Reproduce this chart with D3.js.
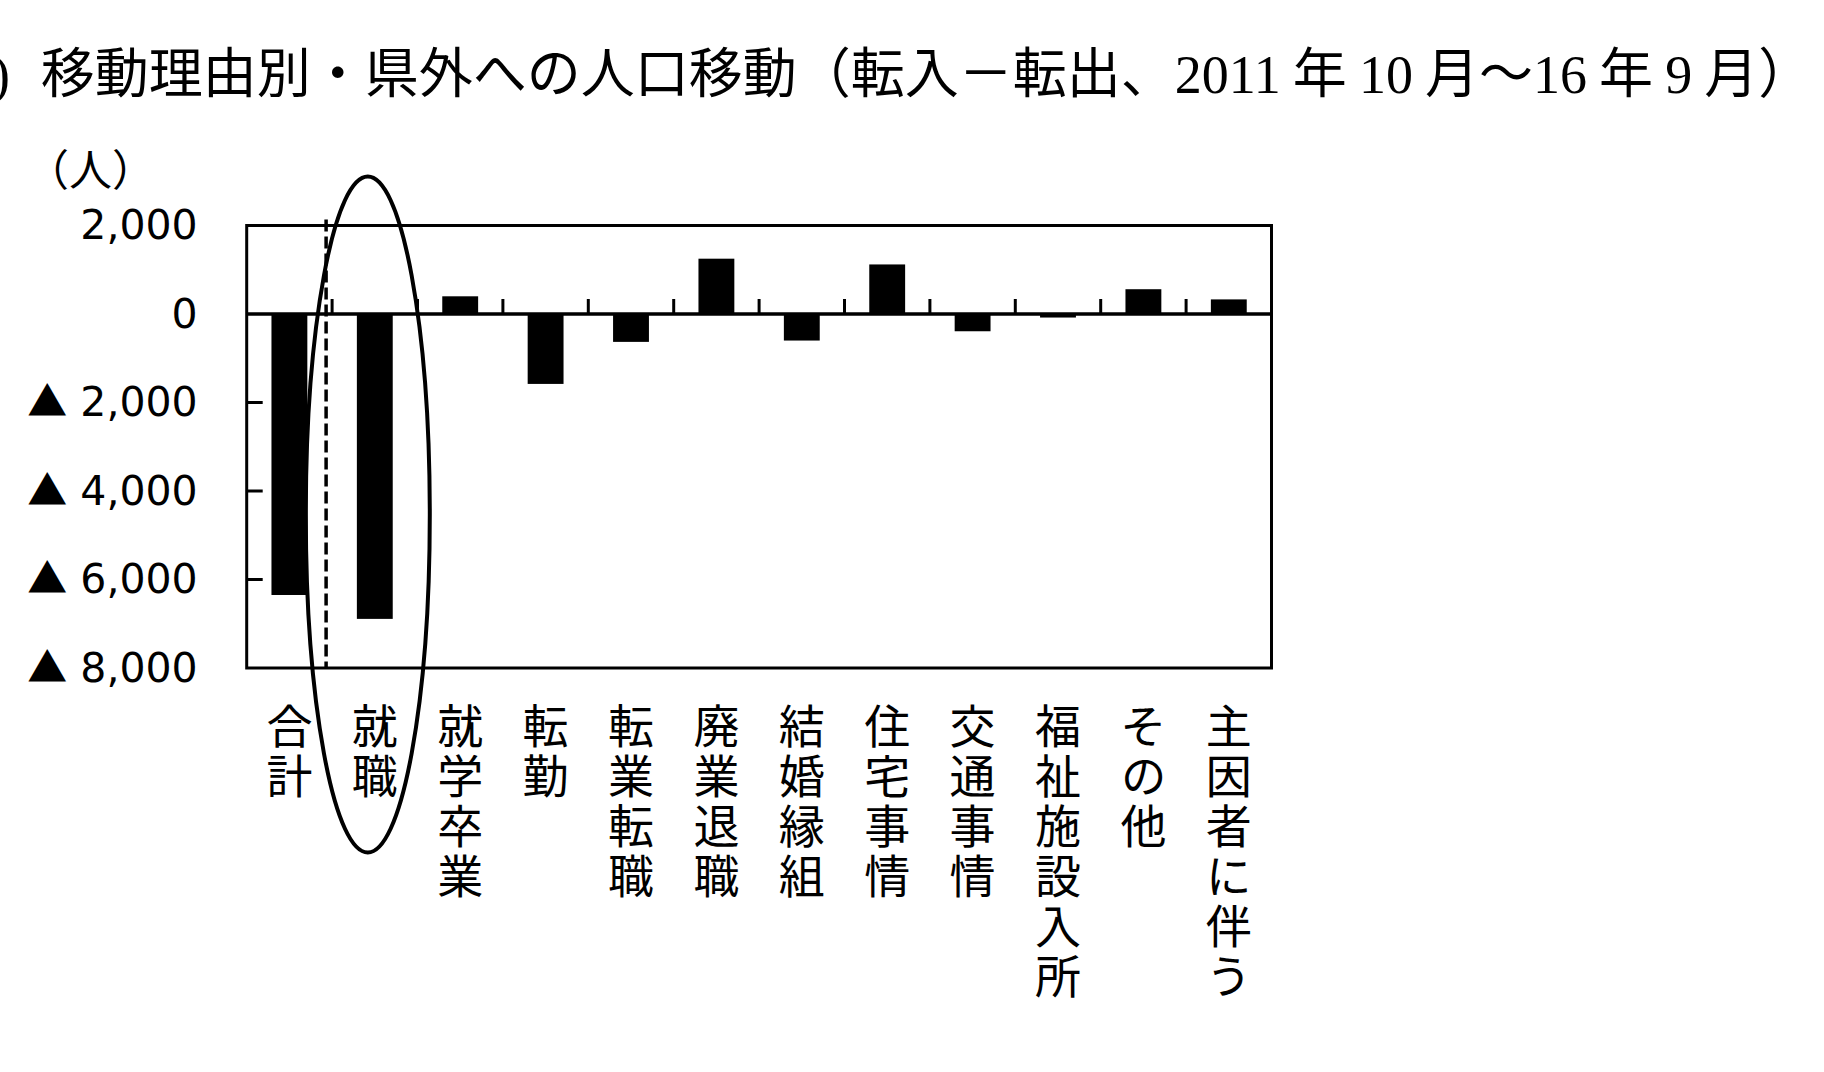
<!DOCTYPE html>
<html>
<head>
<meta charset="utf-8">
<script src="https://cdn.jsdelivr.net/npm/d3@7"></script>
<style>
  html, body { margin: 0; padding: 0; background: #fff; }
  svg { display: block; }
</style>
</head>
<body>
<svg id="chart" width="1824" height="1072"></svg>
<script>
const categories = ["合計","就職","就学卒業","転勤","転業転職","廃業退職","結婚縁組","住宅事情","交通事情","福祉施設入所","その他","主因者に伴う"];
const values = [-6350, -6890, 400, -1580, -630, 1250, -600, 1120, -390, -80, 560, 330];
const yTicks = [2000, 0, -2000, -4000, -6000, -8000];
const yTickLabels = ["2,000", "0", "2,000", "4,000", "6,000", "8,000"];
const negMark = "▲";
const titleText = "移動理由別・県外への人口移動（転入－転出、";
const titleDate = [["2011", "num"], [" 年 ", "jp"], ["10", "num"], [" 月～", "jp"], ["16", "num"], [" 年 ", "jp"], ["9", "num"], [" 月）", "jp"]];
const unitLabel = "（人）";

const svg = d3.select("#chart");
const jp = "'Noto Sans CJK JP', 'Noto Sans CJK SC', sans-serif";
const serif = "'Liberation Serif', 'DejaVu Serif', serif";

const plot = { left: 246.7, right: 1271.5, top: 225.5, bottom: 668 };

const x = d3.scaleBand().domain(categories).range([plot.left, plot.right])
  .paddingInner(0.58).paddingOuter(0.29);
const y = d3.scaleLinear().domain([2000, -8000]).range([plot.top, plot.bottom]);
const bw = x.bandwidth();
const step = x.step();
const gap = step - bw;

// title
svg.append("text").attr("x", 10).attr("y", 93).attr("text-anchor", "end")
  .attr("font-family", serif).attr("font-size", 54).text("(2)");
const t = svg.append("text").attr("x", 40.7).attr("y", 93).attr("font-size", 54).attr("fill", "#000");
t.append("tspan").attr("font-family", jp).text(titleText);
titleDate.forEach(([s, k]) => {
  t.append("tspan").attr("font-family", k === "num" ? serif : jp).text(s);
});

// unit label
svg.append("text").attr("x", 26).attr("y", 186).attr("font-family", jp).attr("font-size", 43).text(unitLabel);

// bars
svg.append("g").selectAll("rect").data(categories).join("rect")
  .attr("x", d => x(d))
  .attr("width", bw)
  .attr("y", (d, i) => y(Math.max(0, values[i])))
  .attr("height", (d, i) => Math.abs(y(values[i]) - y(0)))
  .attr("fill", "#000");

// frame
svg.append("rect").attr("x", plot.left).attr("y", plot.top)
  .attr("width", plot.right - plot.left).attr("height", plot.bottom - plot.top)
  .attr("fill", "none").attr("stroke", "#000").attr("stroke-width", 3);

// y axis labels
const yAxis = d3.axisLeft(y).tickValues(yTicks).tickSize(0).tickFormat((d, i) => yTickLabels[i]).tickPadding(49);
const yg = svg.append("g").attr("transform", `translate(${plot.left},0)`).call(yAxis);
yg.select(".domain").remove();
yg.selectAll("text")
  .attr("font-family", "'DejaVu Sans', sans-serif").attr("font-size", 41).attr("fill", "#000")
  .each(function (d, i) {
    if (d < 0) {
      const el = d3.select(this);
      const label = yTickLabels[i];
      el.text(null);
      el.append("tspan").attr("font-family", jp).attr("font-size", 40).text(negMark);
      el.append("tspan").text("\u00a0" + label);
    }
  });
// inward y ticks
svg.append("g").selectAll("line").data(yTicks.filter(v => v < 0 && v > -8000)).join("line")
  .attr("x1", plot.left).attr("x2", plot.left + 16)
  .attr("y1", d => y(d)).attr("y2", d => y(d))
  .attr("stroke", "#000").attr("stroke-width", 3);

// zero line
svg.append("line").attr("x1", plot.left).attr("x2", plot.right)
  .attr("y1", y(0)).attr("y2", y(0)).attr("stroke", "#000").attr("stroke-width", 3.5);

// category boundary ticks (upward from zero line)
svg.append("g").selectAll("line").data(categories.slice(1)).join("line")
  .attr("x1", d => x(d) - gap / 2).attr("x2", d => x(d) - gap / 2)
  .attr("y1", y(0)).attr("y2", y(0) - 15)
  .attr("stroke", "#000").attr("stroke-width", 3);

// dashed separator
const dx = x(categories[1]) - gap / 2 - 6;
svg.append("line").attr("x1", dx).attr("x2", dx)
  .attr("y1", plot.top - 6).attr("y2", plot.bottom)
  .attr("stroke", "#000").attr("stroke-width", 3.5).attr("stroke-dasharray", "12,5");

// vertical category labels
svg.append("g").selectAll("text").data(categories).join("text")
  .attr("x", d => x(d) + bw / 2)
  .attr("y", 703)
  .attr("font-family", jp).attr("font-size", 46).attr("fill", "#000")
  .style("writing-mode", "vertical-rl")
  .style("glyph-orientation-vertical", "0")
  .attr("letter-spacing", 4)
  .text(d => d);

// highlight ellipse
const ex = x(categories[1]) + bw / 2 - 7;
svg.append("ellipse").attr("cx", ex).attr("cy", 514.5).attr("rx", 62).attr("ry", 338)
  .attr("fill", "none").attr("stroke", "#000").attr("stroke-width", 4);
</script>
</body>
</html>
